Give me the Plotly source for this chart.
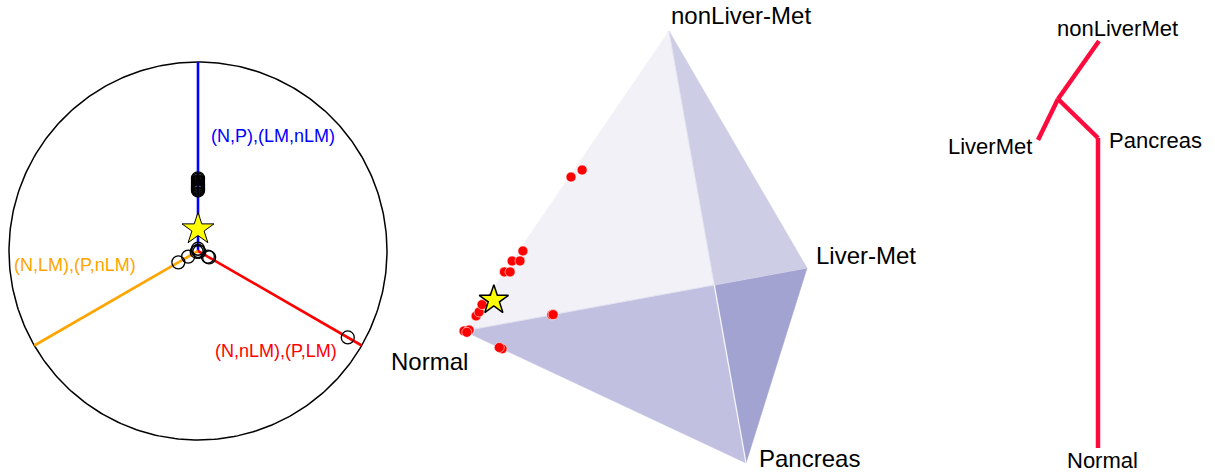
import numpy as np
import plotly.graph_objects as go

W, H = 1215, 475
FONT = "Liberation Sans, Arial, Helvetica, sans-serif"

# ---------------- Panel 1: circular (3-axis) projection ----------------
circ_axis_labels = ["(N,P),(LM,nLM)", "(N,LM),(P,nLM)", "(N,nLM),(P,LM)"]
circ_axis_angles = [90, 210, 330]
circ_axis_colors = ["#0000ff", "#ffa500", "#ff0000"]
# sample points (axis index, radial position)
circ_pt_axis = [0, 0, 0, 0, 0, 0, 0, 0, 0, 0, 0, 0, 0,
                0, 2, 1, 0,
                2, 2, 1, 1, 2]
circ_pt_r = [0.320, 0.325, 0.330, 0.335, 0.340, 0.345, 0.350, 0.355, 0.360,
             0.365, 0.370, 0.378, 0.384,
             0.000, 0.008, 0.008, 0.012,
             0.060, 0.068, 0.060, 0.120, 0.915]
circ_star_axis = 0
circ_star_r = 0.116

# ---------------- Panel 2: tetrahedron (projected vertices) ----------------
tet_names = ["Normal", "Pancreas", "Liver-Met", "nonLiver-Met"]
tet_vx = [464, 746, 807, 669]     # projected vertex x
tet_vy = [331, 463, 268, 31]      # projected vertex y (screen, downwards)
tet_face_colors = ["#f2f1f8", "#cdcde6", "#c1c0e0", "#a3a3d2"]
# sample compositions: weights on (Normal, Pancreas, Liver-Met, nonLiver-Met)
tet_w_N   = [1.000, 0.985, 0.990, 0.945, 0.931, 0.912, 0.872, 0.803, 0.788, 0.766, 0.745, 0.722, 0.482, 0.442, 0.744, 0.865, 0.740, 0.875]
tet_w_P   = [0.000, 0.000, 0.010, 0.000, 0.000, 0.000, 0.000, 0.000, 0.000, 0.000, 0.000, 0.000, 0.000, 0.000, 0.000, 0.135, 0.000, 0.125]
tet_w_LM  = [0.000, 0.015, 0.000, 0.006, 0.007, 0.000, 0.019, 0.000, 0.019, 0.001, 0.027, 0.014, 0.006, 0.027, 0.256, 0.000, 0.260, 0.000]
tet_w_nLM = [0.000, 0.000, 0.000, 0.049, 0.062, 0.088, 0.109, 0.197, 0.193, 0.233, 0.228, 0.264, 0.512, 0.531, 0.000, 0.000, 0.000, 0.000]
tet_star_w = [0.874, 0.000, 0.029, 0.097]

# ---------------- Panel 3: tree ----------------
tree_names = ["Normal", "Pancreas", "", "LiverMet", "nonLiverMet"]
tree_x = [0.00, 0.00, -0.40, -0.60, 0.01]
tree_y = [0.00, 3.10, 3.49, 3.08, 4.07]
tree_edges = [(0, 1), (1, 2), (2, 3), (2, 4)]
tree_color = "#ff0a3c"

fig = go.Figure()

# ---- panel 1 traces (axes x / y) ----
th = np.linspace(0, 2 * np.pi, 361)
fig.add_trace(go.Scatter(x=np.cos(th), y=np.sin(th), mode="lines",
                         line=dict(color="black", width=1.5),
                         hoverinfo="skip", xaxis="x", yaxis="y"))
for ang, col in zip(circ_axis_angles, circ_axis_colors):
    a = np.deg2rad(ang)
    fig.add_trace(go.Scatter(x=[0, np.cos(a)], y=[0, np.sin(a)], mode="lines",
                             line=dict(color=col, width=2.6),
                             hoverinfo="skip", xaxis="x", yaxis="y"))
pa = np.deg2rad(np.array(circ_axis_angles)[circ_pt_axis])
pr = np.array(circ_pt_r)
fig.add_trace(go.Scatter(x=pr * np.cos(pa), y=pr * np.sin(pa), mode="markers",
                         marker=dict(symbol="circle-open", size=13, color="black",
                                     line=dict(width=1.3)),
                         xaxis="x", yaxis="y"))
sa = np.deg2rad(circ_axis_angles[circ_star_axis])
fig.add_trace(go.Scatter(x=[circ_star_r * np.cos(sa)], y=[circ_star_r * np.sin(sa)],
                         mode="markers",
                         marker=dict(symbol="star", size=24, color="#ffff00",
                                     line=dict(color="black", width=1)),
                         xaxis="x", yaxis="y"))

# ---- panel 2 traces (axes x2 / y2) ----
vx = np.array(tet_vx, float)
vy = np.array(tet_vy, float)
N, P, L, T = 0, 1, 2, 3
# intersection of edge N-L with edge T-P (silhouette crossing)
p, r = np.array([vx[N], vy[N]]), np.array([vx[L] - vx[N], vy[L] - vy[N]])
q, s = np.array([vx[T], vy[T]]), np.array([vx[P] - vx[T], vy[P] - vy[T]])
cr = r[0] * s[1] - r[1] * s[0]
tt = ((q - p)[0] * s[1] - (q - p)[1] * s[0]) / cr
X = p + tt * r
faces = [
    ([vx[T], vx[N], X[0]], [vy[T], vy[N], X[1]]),
    ([vx[T], X[0], vx[L]], [vy[T], X[1], vy[L]]),
    ([vx[N], X[0], vx[P]], [vy[N], X[1], vy[P]]),
    ([X[0], vx[L], vx[P]], [X[1], vy[L], vy[P]]),
]
for (fx, fy), col in zip(faces, tet_face_colors):
    fig.add_trace(go.Scatter(x=fx + [fx[0]], y=fy + [fy[0]], mode="lines",
                             fill="toself", fillcolor=col,
                             line=dict(width=0.6, color=col),
                             hoverinfo="skip", xaxis="x2", yaxis="y2"))
fig.add_trace(go.Scatter(x=[X[0], vx[P]], y=[X[1], vy[P]], mode="lines",
                         line=dict(color="rgba(255,255,255,0.9)", width=1.3),
                         hoverinfo="skip", xaxis="x2", yaxis="y2"))
fig.add_trace(go.Scatter(x=[vx[N], vx[L]], y=[vy[N], vy[L]], mode="lines",
                         line=dict(color="rgba(255,255,255,0.45)", width=1),
                         hoverinfo="skip", xaxis="x2", yaxis="y2"))
fig.add_trace(go.Scatter(x=[vx[T], X[0]], y=[vy[T], X[1]], mode="lines",
                         line=dict(color="rgba(255,255,255,0.35)", width=1),
                         hoverinfo="skip", xaxis="x2", yaxis="y2"))
W4 = np.vstack([tet_w_N, tet_w_P, tet_w_LM, tet_w_nLM]).T
px = W4 @ vx
py = W4 @ vy
fig.add_trace(go.Scatter(x=px, y=py, mode="markers",
                         marker=dict(symbol="circle", size=10, color="#ff0000",
                                     line=dict(color="white", width=0.6)),
                         xaxis="x2", yaxis="y2"))
sw = np.array(tet_star_w)
fig.add_trace(go.Scatter(x=[sw @ vx], y=[sw @ vy], mode="markers",
                         marker=dict(symbol="star", size=22, color="#ffff00",
                                     line=dict(color="black", width=1.5)),
                         xaxis="x2", yaxis="y2"))

# ---- panel 3 traces (axes x3 / y3) ----
ex, ey = [], []
for a, b in tree_edges:
    ex += [tree_x[a], tree_x[b], None]
    ey += [tree_y[a], tree_y[b], None]
fig.add_trace(go.Scatter(x=ex, y=ey, mode="lines",
                         line=dict(color=tree_color, width=4.5),
                         hoverinfo="skip", xaxis="x3", yaxis="y3"))

# ---------------- text ----------------
ann = []
lab_pos = [
    dict(x=0.058, y=0.608, xanchor="left"),
    dict(x=-0.984, y=-0.074, xanchor="left"),
    dict(x=0.079, y=-0.529, xanchor="left"),
]
for t, col, pos in zip(circ_axis_labels, circ_axis_colors, lab_pos):
    ann.append(dict(text=t, xref="x", yref="y", showarrow=False, yanchor="middle",
                    font=dict(family=FONT, size=18, color=col), **pos))
tet_lab = [
    dict(xanchor="right", yanchor="middle", xshift=6, yshift=-30),
    dict(xanchor="left", yanchor="middle", xshift=11, yshift=5),
    dict(xanchor="left", yanchor="middle", xshift=7, yshift=13),
    dict(xanchor="left", yanchor="middle", xshift=0, yshift=16),
]
for i, name in enumerate(tet_names):
    ann.append(dict(text=name, x=vx[i], y=vy[i], xref="x2", yref="y2", showarrow=False,
                    font=dict(family=FONT, size=24, color="black"), **tet_lab[i]))
tree_lab = {
    0: dict(xanchor="center", yanchor="middle", xshift=4, yshift=-12),
    1: dict(xanchor="left", yanchor="middle", xshift=9, yshift=-2),
    3: dict(xanchor="right", yanchor="middle", xshift=-4, yshift=-6),
    4: dict(xanchor="center", yanchor="middle", xshift=18, yshift=13),
}
for i, kw in tree_lab.items():
    ann.append(dict(text=tree_names[i], x=tree_x[i], y=tree_y[i], xref="x3", yref="y3",
                    showarrow=False, font=dict(family=FONT, size=22, color="black"), **kw))

# ---------------- axes: map each panel's data space onto the page ----------------
def rng(c, s, n):
    return [(0 - c) / s, (n - c) / s]

hid = dict(visible=False, showgrid=False, zeroline=False, fixedrange=True)
cx, cy, R = 198, 251, 189
tcx, tcy, TS = 1098, 448, 100
layout = dict(
    width=W, height=H, margin=dict(l=0, r=0, t=0, b=0),
    paper_bgcolor="white", plot_bgcolor="rgba(0,0,0,0)", showlegend=False,
    xaxis=dict(domain=[0, 1], range=rng(cx, R, W), anchor="y", **hid),
    yaxis=dict(domain=[0, 1], range=[(cy - H) / R, cy / R], anchor="x", **hid),
    xaxis2=dict(domain=[0, 1], range=[0, W], anchor="y2", **hid),
    yaxis2=dict(domain=[0, 1], range=[H, 0], anchor="x2", **hid),
    xaxis3=dict(domain=[0, 1], range=rng(tcx, TS, W), anchor="y3", **hid),
    yaxis3=dict(domain=[0, 1], range=[(tcy - H) / TS, tcy / TS], anchor="x3", **hid),
    annotations=ann,
)
fig.update_layout(**layout)
fig.write_html("out.html", config={"displayModeBar": False},
               post_script="document.body.style.margin='0px';document.body.style.overflow='hidden';")
